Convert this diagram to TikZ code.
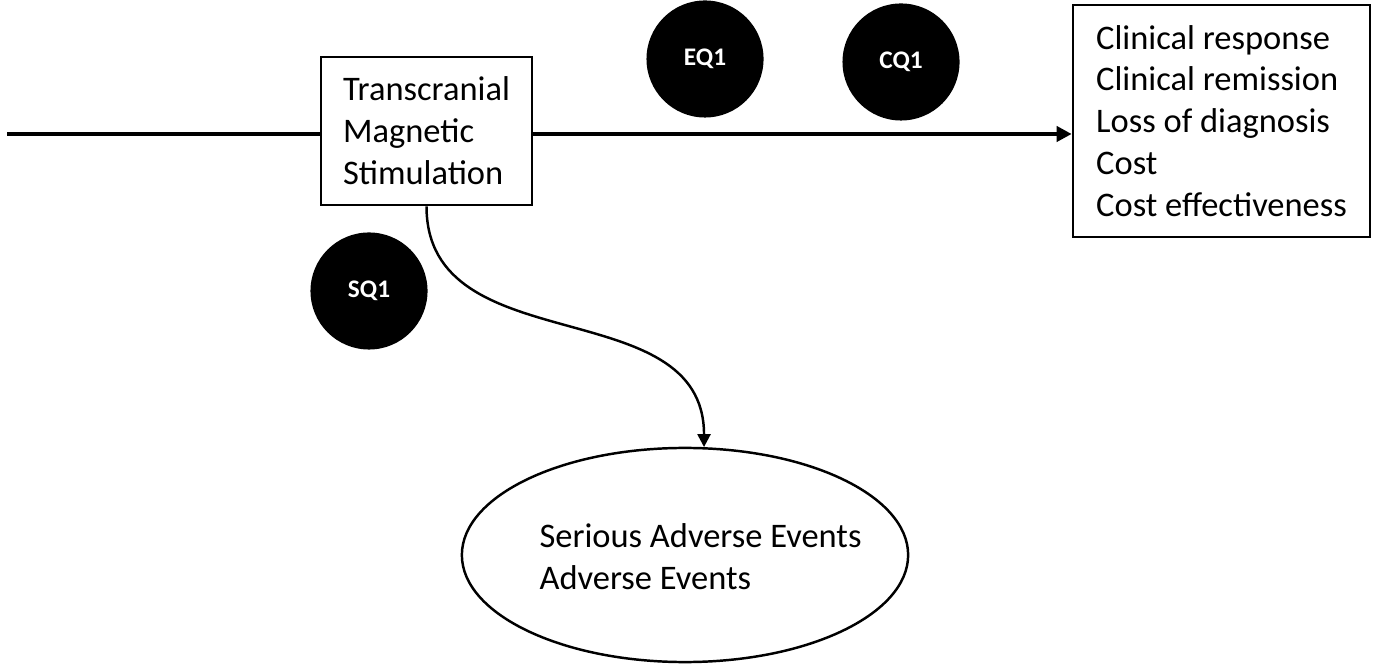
\documentclass[tikz,border=0pt]{standalone}
\usepackage{fontspec}
\setmainfont{Carlito}
\usetikzlibrary{shapes.geometric,arrows.meta}
\def\txt{\fontsize{9.8}{11.9}\selectfont}
\def\qtxt{\fontsize{7.2}{8}\selectfont\bfseries}
\def\tip{Triangle[length=0.15cm,width=0.15cm]}

\begin{document}
\begin{tikzpicture}[x=0.01cm,y=0.01cm,
  box/.style={draw,line width=0.7pt,align=left,font=\txt},
  qdot/.style={circle,fill=black,minimum size=1.17cm,inner sep=0pt,text=white,font=\qtxt}]
\useasboundingbox (0,0) rectangle (1374,664);
\coordinate (S) at (7,530);

\node[box,minimum width=2.11cm,minimum height=1.48cm] (TMS) at (426.5,533)
  {Transcranial\\Magnetic\\Stimulation};
\node[box,minimum width=2.97cm,minimum height=2.32cm] (O) at (1221.5,543)
  {Clinical response\\Clinical remission\\Loss of diagnosis\\Cost\\Cost effectiveness};
\node[draw,line width=0.7pt,ellipse,minimum width=4.46cm,minimum height=2.14cm] (AE) at (685,109) {};
\node[align=left,font=\txt,inner sep=0pt] (AEtext) at (700.5,107.5)
  {Serious Adverse Events\\Adverse Events};

\node[qdot] (EQ) at (705,605) {EQ1};
\node[qdot] (CQ) at (901,602) {CQ1};
\node[qdot] (SQ) at (369,373) {SQ1};

\draw[line width=1.4pt] (S) -- (S -| TMS.west);
\draw[line width=1.4pt,-{\tip}] (S -| TMS.east) -- (S -| O.west);
\draw[line width=0.7pt,-{Triangle[length=0.13cm,width=0.13cm]}] (TMS.south) to[out=-90,in=90,looseness=1.1] (AE.80);
\end{tikzpicture}
\end{document}
